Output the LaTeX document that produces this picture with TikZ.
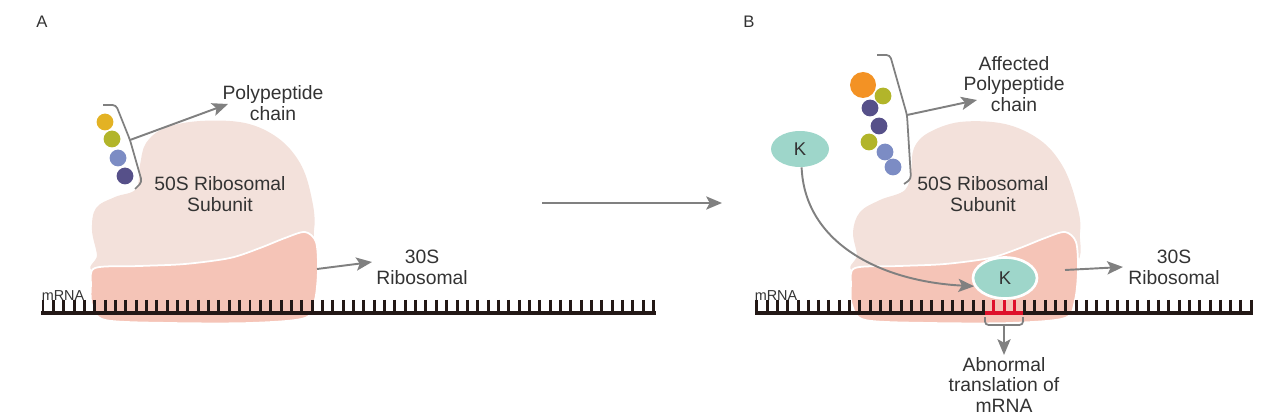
\documentclass[tikz,border=0pt]{standalone}
\usepackage{fontspec}
\setmainfont{Liberation Sans}
\usepackage{tikz}
\usetikzlibrary{shapes,calc}
\usetikzlibrary{arrows.meta}
\definecolor{sub50}{RGB}{243,225,219}
\definecolor{sub30}{RGB}{245,196,183}
\definecolor{arrGray}{RGB}{128,128,128}
\definecolor{txtGray}{RGB}{51,51,51}
\definecolor{rnaDark}{RGB}{35,24,22}
\definecolor{rnaRed}{RGB}{222,16,42}
\definecolor{kTeal}{RGB}{158,214,202}
\definecolor{ballGold}{RGB}{227,178,36}
\definecolor{ballOlive}{RGB}{178,181,42}
\definecolor{ballLav}{RGB}{124,140,196}
\definecolor{ballPurple}{RGB}{86,80,137}
\definecolor{ballOrange}{RGB}{243,146,36}
\tikzset{
    arr/.style={
    ,   draw=arrGray
    ,   line width=1.1pt
    ,   -{Stealth[length=9pt,width=7.5pt,inset=2pt]}
    },
    brk/.style={
    ,   draw=arrGray
    ,   line width=1pt
    ,   rounded corners=2pt
    },
    lbl/.style={
    ,   align=center
    ,   text=txtGray
    ,   inner sep=1pt
    ,   font=\fontsize{11pt}{11.8pt}\selectfont
    },
    panel/.style={
    ,   text=txtGray
    ,   inner sep=0pt
    ,   font=\fontsize{9.5pt}{10pt}\selectfont
    },
    rnaLbl/.style={
    ,   text=txtGray
    ,   inner sep=0pt
    ,   font=\fontsize{8.2pt}{9pt}\selectfont
    },
    rnaLine/.style={
    ,   draw=#1
    ,   line width=1.9pt
    },
    rnaTick/.style={
    ,   draw=#1
    ,   line width=1.7pt
    },
    kEll/.style={
    ,   ellipse
    ,   fill=kTeal
    ,   text=txtGray
    ,   inner sep=0pt
    ,   minimum width=1.16cm
    ,   minimum height=0.72cm
    ,   font=\fontsize{10.5pt}{11pt}\selectfont
    },
}
\begin{document}
\begin{tikzpicture}[x=0.02cm, y=-0.02cm]
\useasboundingbox (0,0) rectangle (1280,418);

% panel A ribosome
\fill[sub50] plot[smooth cycle, tension=0.6] coordinates {
  (200,121) (245,123) (278,138) (300,163) (311,195) (314,230) (300,270)
  (180,280) (96,272) (97,255) (92,230) (96,208) (115,197) (136,189)
  (140,165) (146,143) (165,128)};
\filldraw[fill=sub30, draw=white, line width=1pt] plot[smooth cycle, tension=0.5] coordinates {
  (95,268) (140,266) (185,264) (230,258) (260,248) (285,238) (305,232)
  (316,242) (318,270) (315,300) (305,318) (250,323) (170,323) (105,320)
  (92,305) (91,285)};

% panel B ribosome
\fill[sub50] plot[smooth cycle, tension=0.6] coordinates {
  (960,122) (1005,124) (1040,140) (1062,165) (1075,198) (1080,232) (1065,270)
  (940,280) (856,272) (857,255) (853,232) (860,212) (880,200) (905,190)
  (911,170) (914,148) (928,133)};
\filldraw[fill=sub30, draw=white, line width=1pt] plot[smooth cycle, tension=0.5] coordinates {
  (855,268) (900,266) (945,264) (990,258) (1020,248) (1045,238) (1065,232)
  (1076,242) (1078,270) (1075,300) (1065,318) (1010,323) (930,323) (865,320)
  (852,305) (851,285)};

% mRNA strands
\draw[rnaLine=rnaDark] (41,313) -- (656,313);
\foreach \k in {0,...,59}{
  \draw[rnaTick=rnaDark] ({43+10.35*\k},300) -- ({43+10.35*\k},313);
}
\draw[rnaLine=rnaDark] (755,313) -- (1253,313);
\foreach \j in {-24,...,24}{
  \draw[rnaTick=rnaDark] ({1004+10.3*\j},300) -- ({1004+10.3*\j},313);
}
\draw[rnaLine=rnaRed] (985,313) -- (1023,313);
\foreach \j in {-1,0,1}{
  \draw[rnaTick=rnaRed] ({1004+10.3*\j},300) -- ({1004+10.3*\j},313);
}

% labels
\node[panel] (panA) at (42,22) {A};
\node[panel] (panB) at (749,22) {B};
\node[rnaLbl] (rnaA) at (63,296) {mRNA};
\node[rnaLbl] (rnaB) at (776,296) {mRNA};
\node[lbl] (subA) at (220,194) {50S Ribosomal\\Subunit};
\node[lbl] (subB) at (983,194) {50S Ribosomal\\Subunit};
\node[lbl] (smA) at (422,267) {30S\\Ribosomal};
\node[lbl] (smB) at (1174,267) {30S\\Ribosomal};
\node[lbl] (pepA) at (273,103) {Polypeptide\\chain};
\node[lbl] (pepB) at (1014,84) {Affected\\Polypeptide\\chain};
\node[lbl, anchor=north] (abn) at (1004,355) {Abnormal\\translation of\\mRNA};

% polypeptide beads
\foreach \px/\py/\c in {105/122/ballGold, 112/139/ballOlive, 118/158/ballLav, 125/176/ballPurple}{
  \fill[\c] (\px,\py) circle[radius=8.4];
}
\foreach \px/\py/\c in {883/96/ballOlive, 870/108/ballPurple, 879/126/ballPurple, 869/142/ballOlive, 885/152/ballLav, 893/167/ballLav}{
  \fill[\c] (\px,\py) circle[radius=8.4];
}
\fill[ballOrange] (863,85) circle[radius=13];

% brackets
\draw[brk] (103,105) -- (116,105) -- (130,140) -- (142,182) -- (135,189);
\draw[brk] (877,55) -- (890,55) -- (907,115) -- (911,179) -- (904,184);
\draw[brk] (985,317) -- (985,325) -- (1023,325) -- (1023,317);

% K molecules
\node[kEll] (kOne) at (800,149) {K};
\node[kEll, draw=white, line width=1.5pt, minimum width=1.28cm, minimum height=0.82cm] (kTwo) at (1005,278) {K};

% arrows
\coordinate (brA) at (130,140);
\coordinate (pepTipA) at (228,104);
\coordinate (brB) at (907,115);
\coordinate (pepTipB) at (977,100);
\coordinate (smTailA) at (317,269);
\coordinate (smTipA) at (372,262);
\coordinate (smTailB) at (1065,270);
\coordinate (smTipB) at (1123,267);
\coordinate (midL) at (542,203);
\coordinate (midR) at (722,203);
\coordinate (brc) at (1004,325);
\draw[arr] (brA) -- (pepTipA);
\draw[arr] (brB) -- (pepTipB);
\draw[arr] (smTailA) -- (smTipA);
\draw[arr] (smTailB) -- (smTipB);
\draw[arr] (midL) -- (midR);
\draw[arr] (brc) -- (abn.north);
\draw[arr] (kOne.-85) .. controls +(3,75) and +(-95,-5) .. (kTwo.195);
\end{tikzpicture}
\end{document}
